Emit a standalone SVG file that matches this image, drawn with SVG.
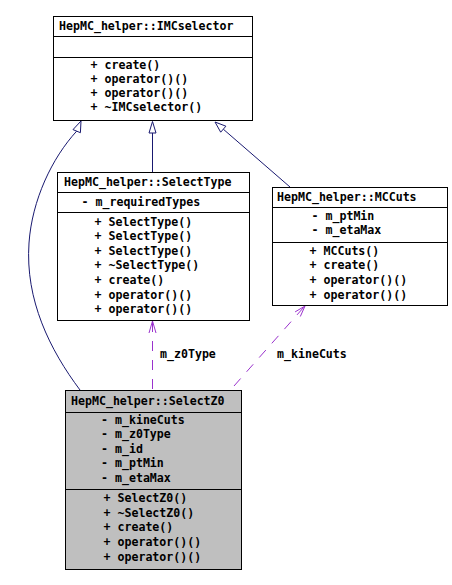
<svg xmlns="http://www.w3.org/2000/svg" width="452" height="585" viewBox="0 0 452 585">
<style>
.box{fill:#ffffff;stroke:#000000;stroke-width:1}
.sel{fill:#bfbfbf;stroke:#000000;stroke-width:1}
.sep{stroke:#000000;stroke-width:1}
text{font-family:"DejaVu Sans Mono","Liberation Mono",monospace;font-size:11.6px;font-weight:bold;fill:#000000}
.inh{fill:none;stroke:#191970;stroke-width:1}
.inhhead{fill:#ffffff;stroke:#191970;stroke-width:1}
.use{fill:none;stroke:#9a32cd;stroke-width:1;stroke-dasharray:10,9}
.usehead{fill:none;stroke:#9a32cd;stroke-width:1}
</style>
<rect width="452" height="585" fill="#ffffff"/>
<g id="connectors">
  <path class="inh" d="M80,390 C50,350 25,300 29,243 C32,200 52,158 76.7,131.1"/>
  <polygon class="inhhead" points="81,121 80.4,132.7 73,129.6"/>
  <line class="inh" x1="152.5" y1="133" x2="152.5" y2="172"/>
  <polygon class="inhhead" points="152.5,121.5 156,133 149,133"/>
  <line class="inh" x1="223.3" y1="129.2" x2="290" y2="187"/>
  <polygon class="inhhead" points="215,122 220.7,132.2 225.9,126.2"/>
  <line class="use" x1="152.5" y1="389" x2="152.5" y2="322"/>
  <polyline class="usehead" points="149,333 152.5,321 156,333"/>
  <line class="use" x1="234" y1="386" x2="304" y2="307"/>
  <polyline class="usehead" points="300.3,316.5 305,306 295.1,311.9"/>
  <text x="160" y="357.5">m_z0Type</text>
  <text x="277" y="357.5">m_kineCuts</text>
</g>
<g id="IMCselector">
  <rect class="box" x="53.5" y="16.5" width="199" height="104"/>
  <line class="sep" x1="53.5" y1="36.5" x2="252.5" y2="36.5"/>
  <line class="sep" x1="53.5" y1="57.5" x2="252.5" y2="57.5"/>
  <text x="59" y="30">HepMC_helper::IMCselector</text>
  <text x="90.5" y="68.5">+ create()</text>
  <text x="90.5" y="82.8">+ operator()()</text>
  <text x="90.5" y="97.1">+ operator()()</text>
  <text x="90.5" y="111.4">+ ~IMCselector()</text>
</g>
<g id="SelectType">
  <rect class="box" x="57.5" y="172.5" width="192" height="148"/>
  <line class="sep" x1="57.5" y1="192.5" x2="249.5" y2="192.5"/>
  <line class="sep" x1="57.5" y1="212.5" x2="249.5" y2="212.5"/>
  <text x="64" y="186">HepMC_helper::SelectType</text>
  <text x="81.5" y="205.5">- m_requiredTypes</text>
  <text x="94.5" y="225.8">+ SelectType()</text>
  <text x="94.5" y="240.3">+ SelectType()</text>
  <text x="94.5" y="254.8">+ SelectType()</text>
  <text x="94.5" y="269.4">+ ~SelectType()</text>
  <text x="94.5" y="283.9">+ create()</text>
  <text x="94.5" y="298.5">+ operator()()</text>
  <text x="94.5" y="313">+ operator()()</text>
</g>
<g id="MCCuts">
  <rect class="box" x="272.5" y="187.5" width="175" height="118"/>
  <line class="sep" x1="272.5" y1="207.5" x2="447.5" y2="207.5"/>
  <line class="sep" x1="272.5" y1="242.5" x2="447.5" y2="242.5"/>
  <text x="277" y="200.5">HepMC_helper::MCCuts</text>
  <text x="311.5" y="219.5">- m_ptMin</text>
  <text x="311.5" y="234.3">- m_etaMax</text>
  <text x="309.5" y="254.5">+ MCCuts()</text>
  <text x="309.5" y="269.2">+ create()</text>
  <text x="309.5" y="283.8">+ operator()()</text>
  <text x="309.5" y="298.5">+ operator()()</text>
</g>
<g id="SelectZ0">
  <rect class="sel" x="65.5" y="390.5" width="176" height="179"/>
  <line class="sep" x1="65.5" y1="412.5" x2="241.5" y2="412.5"/>
  <line class="sep" x1="65.5" y1="489.5" x2="241.5" y2="489.5"/>
  <text x="71" y="404.5">HepMC_helper::SelectZ0</text>
  <text x="101" y="423.5">- m_kineCuts</text>
  <text x="101" y="438">- m_z0Type</text>
  <text x="101" y="452.7">- m_id</text>
  <text x="101" y="467.4">- m_ptMin</text>
  <text x="101" y="482.2">- m_etaMax</text>
  <text x="103.5" y="502">+ SelectZ0()</text>
  <text x="103.5" y="516.7">+ ~SelectZ0()</text>
  <text x="103.5" y="531.4">+ create()</text>
  <text x="103.5" y="546.1">+ operator()()</text>
  <text x="103.5" y="560.8">+ operator()()</text>
</g>
</svg>
